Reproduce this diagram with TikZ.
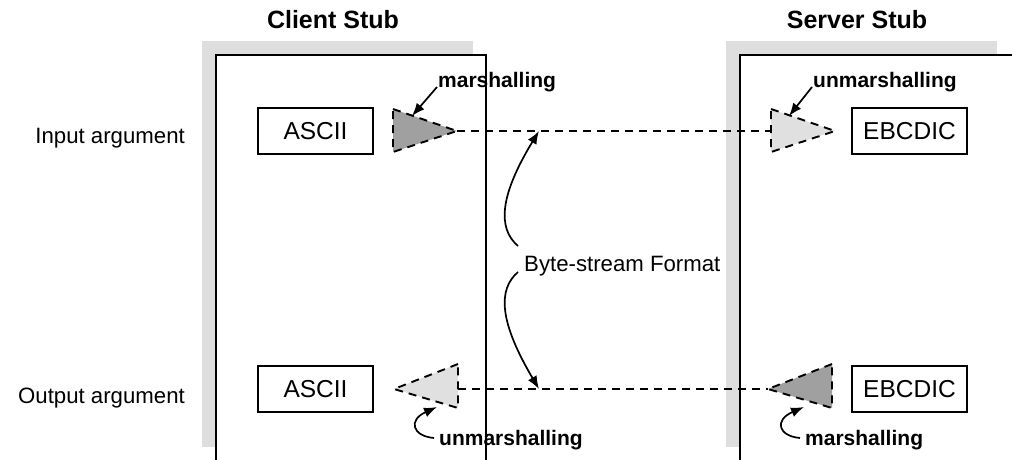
\documentclass[tikz,border=0pt]{standalone}
\usepackage{fontspec}
\setmainfont{Liberation Sans}
\usetikzlibrary{arrows.meta}
\definecolor{shadow}{HTML}{DEDEDE}
\definecolor{darkfill}{HTML}{A0A0A0}
\definecolor{lightfill}{HTML}{E0E0E0}
\tikzset{
  stubshadow/.style={fill=shadow, draw=none},
  stubbox/.style={draw=black, fill=white, line width=2pt},
  databox/.style={draw=black, fill=white, line width=1.9pt, minimum width=115pt, minimum height=46pt, inner sep=0pt, font=\fontsize{24.5}{28}\selectfont},
  tri/.style={draw=black, line width=1.9pt, dash pattern=on 8pt off 6pt, line join=miter},
  wire/.style={draw=black, line width=1.7pt, dash pattern=on 8pt off 6pt},
  pointer/.style={draw=black, line width=1.7pt, -{Latex[length=13pt,width=10pt]}},
  plain/.style={inner sep=0pt, font=\fontsize{22.2}{26}\selectfont},
  boldlabel/.style={inner sep=0pt, font=\fontsize{21}{25}\selectfont\bfseries},
  title/.style={inner sep=0pt, font=\fontsize{25}{30}\selectfont\bfseries}
}
\begin{document}
\begin{tikzpicture}[x=1pt,y=-1pt]
\useasboundingbox (0,0) rectangle (1012,459);
\fill[white] (0,0) rectangle (1012,459);
% stub frames
\path[stubshadow] (202,41) rectangle (473,447);
\path[stubbox] (216,55) rectangle (486,475);
\path[stubshadow] (726,41) rectangle (997,447);
\path[stubbox] (740,55) rectangle (1030,475);
% titles
\node[title, anchor=base] (ct) at (333,28) {Client Stub};
\node[title, anchor=base] (st) at (857,28) {Server Stub};
% row labels
\node[plain, anchor=base east] (inarg) at (185,143) {Input argument};
\node[plain, anchor=base east] (outarg) at (185,403) {Output argument};
% data boxes
\node[databox] (a1) at (315.5,131) {ASCII};
\node[databox] (e1) at (909.5,131) {EBCDIC};
\node[databox] (a2) at (315.5,389) {ASCII};
\node[databox] (e2) at (909.5,389) {EBCDIC};
% triangle vertices
\coordinate (m1a) at (393,109); \coordinate (m1b) at (393,152); \coordinate (m1t) at (457,131);
\coordinate (u1a) at (771,109); \coordinate (u1b) at (771,152); \coordinate (u1t) at (835,131);
\coordinate (u2a) at (458,364); \coordinate (u2b) at (458,408); \coordinate (u2t) at (394,389);
\coordinate (m2a) at (832,364); \coordinate (m2b) at (832,408); \coordinate (m2t) at (768,389);
% wires
\draw[wire] (m1t) -- (u1a |- u1t);
\draw[wire] (u2a |- u2t) -- (m2t);
% triangles
\fill[darkfill] (m1a) -- (m1t) -- (m1b) -- cycle;
\draw[tri] (m1a) -- (m1t) -- (m1b) -- cycle;
\fill[lightfill] (u1a) -- (u1t) -- (u1b) -- cycle;
\draw[tri] (u1a) -- (u1t) -- (u1b) -- cycle;
\fill[lightfill] (u2a) -- (u2t) -- (u2b) -- cycle;
\draw[tri] (u2a) -- (u2t) -- (u2b) -- cycle;
\fill[darkfill] (m2a) -- (m2t) -- (m2b) -- cycle;
\draw[tri] (m2a) -- (m2t) -- (m2b) -- cycle;
% bold labels
\node[boldlabel, anchor=base west] (lm1) at (438,87) {marshalling};
\node[boldlabel, anchor=base west] (lu1) at (813,87) {unmarshalling};
\node[boldlabel, anchor=base west] (lu2) at (439,445) {unmarshalling};
\node[boldlabel, anchor=base west] (lm2) at (805,445) {marshalling};
% pointer arrows
\coordinate (pm1s) at (437,87); \coordinate (pm1e) at (412,116);
\coordinate (pu1s) at (812,87); \coordinate (pu1e) at (789,116);
\draw[pointer] (pm1s) -- (pm1e);
\draw[pointer] (pu1s) -- (pu1e);
\coordinate (pu2s) at (434,438); \coordinate (pu2e) at (437,407);
\coordinate (pm2s) at (800,438); \coordinate (pm2e) at (804,407);
\draw[pointer] (pu2s) .. controls (412,436) and (408,420) .. (pu2e);
\draw[pointer] (pm2s) .. controls (778,436) and (774,420) .. (pm2e);
% byte-stream format
\node[plain, anchor=base west] (bsf) at (524,271) {Byte-stream Format};
\coordinate (b1s) at (518,246); \coordinate (b1e) at (539,131);
\coordinate (b2s) at (518,272); \coordinate (b2e) at (539,389);
\draw[pointer] (b1s) .. controls (497,228) and (500,195) .. (b1e);
\draw[pointer] (b2s) .. controls (497,290) and (500,323) .. (b2e);
\end{tikzpicture}
\end{document}
